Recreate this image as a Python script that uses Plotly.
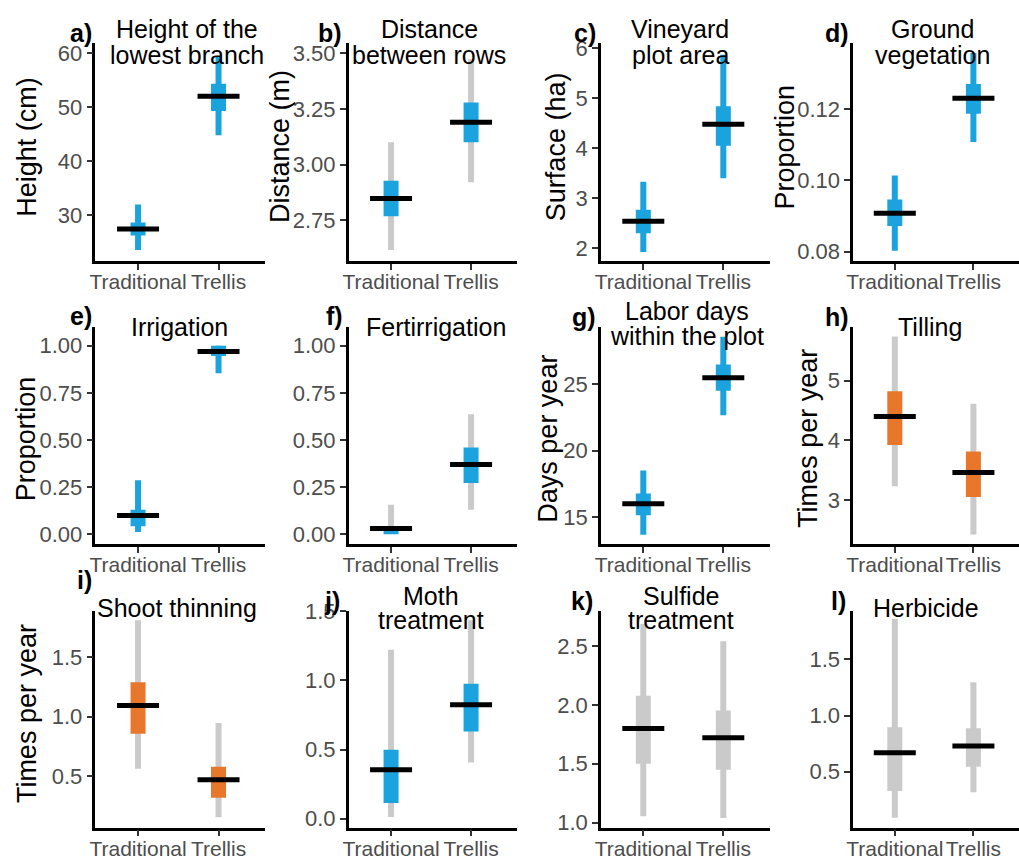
import plotly.graph_objects as go

# ---------------- data ----------------
categories = ["Traditional", "Trellis"]
panel_tags = ["a)", "b)", "c)", "d)", "e)", "f)", "g)", "h)", "i)", "j)", "k)", "l)"]
title_lines = [
    ["Height of the", "lowest branch"],
    ["Distance", "between rows"],
    ["Vineyard", "plot area"],
    ["Ground", "vegetation"],
    ["Irrigation"],
    ["Fertirrigation"],
    ["Labor days", "within the plot"],
    ["Tilling"],
    ["Shoot thinning"],
    ["Moth", "treatment"],
    ["Sulfide", "treatment"],
    ["Herbicide"],
]
y_titles = ["Height (cm)", "Distance (m)", "Surface (ha)", "Proportion",
            "Proportion", "", "Days per year", "Times per year",
            "Times per year", "", "", ""]

# posterior medians  [Traditional, Trellis]
median = [
    [27.5, 52.0], [2.848, 3.19], [2.54, 4.48], [0.0908, 0.1231],
    [0.10, 0.97], [0.03, 0.37], [16.02, 25.49], [4.40, 3.46],
    [1.093, 0.47], [0.353, 0.824], [1.80, 1.72], [0.67, 0.73],
]
# inner interval
inner_lo = [
    [26.3, 49.3], [2.768, 3.10], [2.30, 4.05], [0.0872, 0.1187],
    [0.043, 0.945], [0.0, 0.272], [15.16, 24.51], [3.92, 3.05],
    [0.855, 0.319], [0.113, 0.631], [1.50, 1.45], [0.33, 0.544],
]
inner_hi = [
    [28.7, 54.3], [2.928, 3.279], [2.77, 4.84], [0.0947, 0.1271],
    [0.13, 1.0], [0.035, 0.46], [16.8, 26.47], [4.82, 3.81],
    [1.288, 0.579], [0.498, 0.976], [2.078, 1.953], [0.895, 0.886],
]
# outer interval
outer_lo = [
    [23.6, 44.8], [2.617, 2.921], [1.93, 3.40], [0.0803, 0.1108],
    [0.012, 0.854], [0.009, 0.13], [13.69, 22.67], [3.23, 2.42],
    [0.562, 0.156], [0.012, 0.405], [1.055, 1.04], [0.091, 0.319],
]
outer_hi = [
    [32.0, 59.4], [3.10, 3.472], [3.33, 5.87], [0.1014, 0.1358],
    [0.286, 1.0], [0.156, 0.636], [18.53, 28.56], [5.74, 4.61],
    [1.807, 0.945], [1.223, 1.435], [2.688, 2.54], [1.86, 1.295],
]
y_ticks = [
    [30, 40, 50, 60], [2.75, 3.00, 3.25, 3.50], [2, 3, 4, 5, 6], [0.08, 0.10, 0.12],
    [0, 0.25, 0.5, 0.75, 1.0], [0, 0.25, 0.5, 0.75, 1.0], [15, 20, 25], [3, 4, 5],
    [0.5, 1.0, 1.5], [0.0, 0.5, 1.0, 1.5], [1.0, 1.5, 2.0, 2.5], [0.5, 1.0, 1.5],
]
y_ticklabels = [
    ["30", "40", "50", "60"], ["2.75", "3.00", "3.25", "3.50"], ["2", "3", "4", "5", "6"],
    ["0.08", "0.10", "0.12"], ["0.00", "0.25", "0.50", "0.75", "1.00"],
    ["0.00", "0.25", "0.50", "0.75", "1.00"], ["15", "20", "25"], ["3", "4", "5"],
    ["0.5", "1.0", "1.5"], ["0.0", "0.5", "1.0", "1.5"], ["1.0", "1.5", "2.0", "2.5"],
    ["0.5", "1.0", "1.5"],
]
y_ranges = [
    [21.5, 61.8], [2.566, 3.544], [1.74, 6.10], [0.0773, 0.1385],
    [-0.052, 1.10], [-0.052, 1.10], [13.0, 29.3], [2.26, 5.90],
    [0.068, 1.889], [-0.066, 1.506], [0.958, 2.80], [0.003, 1.933],
]

# ---------------- styles ----------------
BLUE = "#1BA3DE"
ORANGE = "#E8772B"
GREY = "#CACACA"
outer_color = [BLUE, GREY, BLUE, BLUE, BLUE, GREY, BLUE, GREY, GREY, GREY, GREY, GREY]
inner_color = [BLUE, BLUE, BLUE, BLUE, BLUE, BLUE, BLUE, ORANGE, ORANGE, BLUE, GREY, GREY]

W, H = 1019, 866
col_x = [(89, 260), (344, 514), (598, 768), (852, 1019)]
row_y = [(33, 256), (323, 545), (613, 835)]
title_x = [181, 425, 678, 932, 174, 432, 685, 929, 171, 427, 679, 925]
title_y = [[18, 45], [18, 45], [18, 45], [18, 45], [323], [323], [307, 332], [323],
           [610], [598, 623], [598, 623], [610]]
tag_pos = [(88, 22), (339, 22), (595, 22), (850, 22), (88, 312), (340, 312), (595, 313),
           (850, 313), (88, 582), (337, 603), (592, 603), (847, 603)]
ytitle_x = [20, 275, 553, 783, 20, None, 545, 807, 20, None, None, None]
ytitle_y = [139, 437, 718]

FONT = "Liberation Sans, Arial, Helvetica, sans-serif"

fig = go.Figure()
layout = dict(width=W, height=H, margin=dict(l=0, r=0, t=0, b=0),
              paper_bgcolor="white", plot_bgcolor="white", showlegend=False,
              font=dict(family=FONT))
annotations = []

def px_x(v):
    return v / W

def px_y(v):
    return 1 - v / H

for k in range(12):
    r, c = divmod(k, 4)
    n = k + 1
    xa = "x" if n == 1 else f"x{n}"
    ya = "y" if n == 1 else f"y{n}"
    xs, ys = [], []
    xi, yi = [], []
    for j, cat in enumerate(categories):
        xs += [cat, cat, None]
        ys += [outer_lo[k][j], outer_hi[k][j], None]
        xi += [cat, cat, None]
        yi += [inner_lo[k][j], inner_hi[k][j], None]
    fig.add_trace(go.Scatter(x=xs, y=ys, mode="lines", xaxis=xa, yaxis=ya,
                             line=dict(color=outer_color[k], width=6), hoverinfo="skip"))
    fig.add_trace(go.Scatter(x=xi, y=yi, mode="lines", xaxis=xa, yaxis=ya,
                             line=dict(color=inner_color[k], width=15), hoverinfo="skip"))
    fig.add_trace(go.Scatter(x=categories, y=median[k], mode="markers", xaxis=xa, yaxis=ya,
                             marker=dict(symbol="line-ew", size=30, color="black",
                                         line=dict(color="black", width=5))))
    x0, x1 = col_x[c]
    y0, y1 = row_y[r]
    axis_common = dict(showline=True, linecolor="black", linewidth=2.5, ticks="outside",
                       ticklen=6, tickwidth=2.2, tickcolor="#333333", showgrid=False,
                       zeroline=False, tickangle=0)
    layout["xaxis" if n == 1 else f"xaxis{n}"] = dict(
        domain=[px_x(x0), px_x(x1)], anchor=ya, type="category",
        categoryorder="array", categoryarray=categories,
        range=[-0.53, 1.58], ticklabelstandoff=-6,
        tickfont=dict(family=FONT, size=21, color="#4D4D4D"), **axis_common)
    layout["yaxis" if n == 1 else f"yaxis{n}"] = dict(
        domain=[px_y(y1), px_y(y0)], anchor=xa, range=y_ranges[k],
        tickvals=y_ticks[k], ticktext=y_ticklabels[k],
        tickfont=dict(family=FONT, size=22, color="#4D4D4D"), **axis_common)
    # titles
    for line, ty in zip(title_lines[k], title_y[k]):
        annotations.append(dict(text=line, x=px_x(title_x[k]), y=px_y(ty), xref="paper",
                                yref="paper", xanchor="center", yanchor="middle",
                                showarrow=False, font=dict(family=FONT, size=25, color="black")))
    tx, ty = tag_pos[k]
    annotations.append(dict(text=f"<b>{panel_tags[k]}</b>", x=px_x(tx), y=px_y(ty),
                            xref="paper", yref="paper", xanchor="right", yanchor="middle",
                            showarrow=False, font=dict(family=FONT, size=25, color="black")))
    if y_titles[k]:
        annotations.append(dict(text=y_titles[k], x=px_x(ytitle_x[k]), y=px_y(ytitle_y[r]),
                                xref="paper", yref="paper", xanchor="center", yanchor="middle",
                                textangle=-90, showarrow=False,
                                font=dict(family=FONT, size=27, color="black")))

layout["annotations"] = annotations
fig.update_layout(**layout)
fig.write_html("out.html")
